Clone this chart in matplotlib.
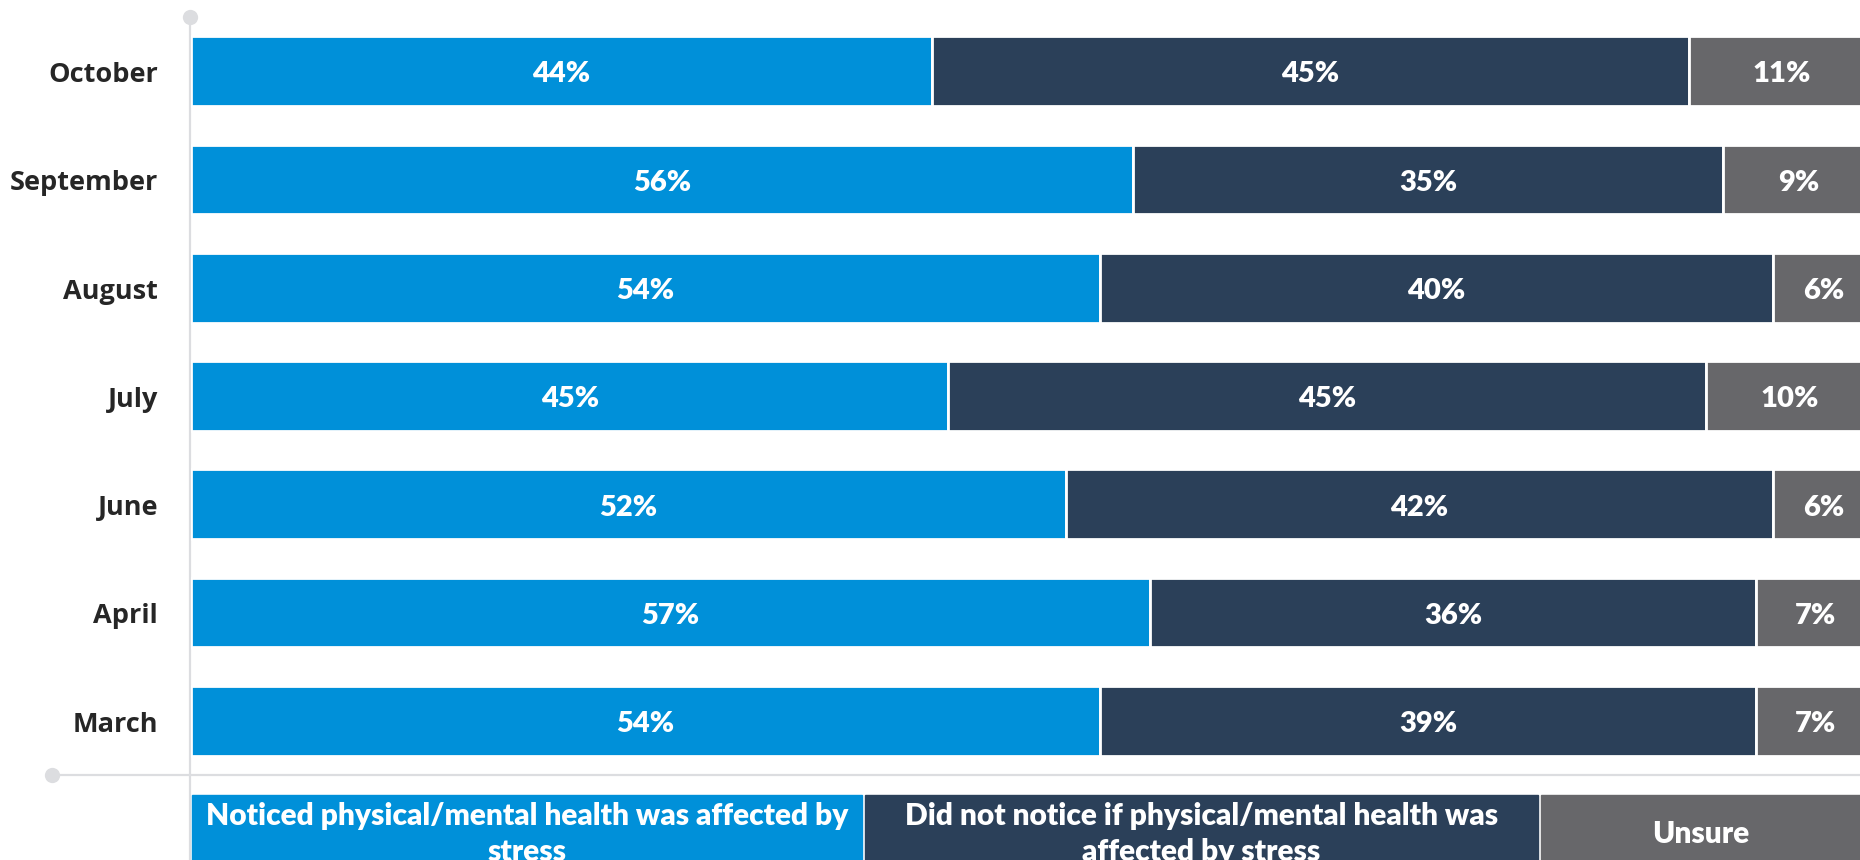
import matplotlib.pyplot as plt
from matplotlib.lines import Line2D
from matplotlib.patches import Rectangle

months = ["October", "September", "August", "July", "June", "April", "March"]
noticed = [44, 56, 54, 45, 52, 57, 54]
not_noticed = [45, 35, 40, 45, 42, 36, 39]
unsure = [11, 9, 6, 10, 6, 7, 7]

series_names = [
    "Noticed physical/mental health was affected by\nstress",
    "Did not notice if physical/mental health was\naffected by stress",
    "Unsure",
]
colors = ["#0090d9", "#2b4059", "#67676a"]

W, H = 1860, 860
AXIS_GREY = "#dcdde0"


def fx(px):
    return px / W


def fy(py):
    # py counted from the top of the figure
    return 1 - py / H


fig = plt.figure(figsize=(W / 100, H / 100), dpi=100)

# plot area: 0..100 % spans 191..1874 px, rows span 17..775 px
ax = fig.add_axes([fx(191), fy(775), fx(1683), 758 / H])
ax.set_xlim(0, 100)
ax.set_ylim(len(months) - 0.5, -0.5)
ax.axis("off")

ypos = list(range(len(months)))
left = [0] * len(months)
for vals, col in zip([noticed, not_noticed, unsure], colors):
    ax.barh(ypos, vals, left=left, height=0.645, color=col,
            edgecolor="white", linewidth=2.0)
    for y, l, v in zip(ypos, left, vals):
        ax.text(l + v / 2, y + 0.03, f"{v}%", ha="center", va="center",
                color="white", fontsize=21, fontweight="heavy",
                family="Lato")
    left = [a + b for a, b in zip(left, vals)]

# month labels
for y, m in zip(ypos, months):
    ax.text(-1.95, y + 0.035, m, ha="right", va="center", fontsize=19.5,
            fontweight="bold", family="Open Sans", color="#262626")

# axis lines with end dots
fig.add_artist(Line2D([fx(190), fx(190)], [fy(17), fy(870)], color=AXIS_GREY,
                      lw=1.6, zorder=0))
fig.add_artist(Line2D([fx(52), fx(1870)], [fy(775), fy(775)], color=AXIS_GREY,
                      lw=1.6, zorder=0))
fig.add_artist(Line2D([fx(190)], [fy(17)], marker="o", markersize=11,
                      color=AXIS_GREY, markeredgewidth=0))
fig.add_artist(Line2D([fx(52)], [fy(775)], marker="o", markersize=11,
                      color=AXIS_GREY, markeredgewidth=0))

# legend boxes under the plot
box_edges = [(192, 862), (865, 1538), (1541, 1860)]
for (x0, x1), name, col in zip(box_edges, series_names, colors):
    fig.add_artist(Rectangle((fx(x0), fy(870)), fx(x1 - x0), (870 - 795) / H,
                             color=col, zorder=1))
    fig.text(fx((x0 + x1) / 2), fy(834), name, ha="center", va="center",
             multialignment="center", color="white", fontsize=21.5,
             fontweight="heavy", family="Lato", linespacing=1.35)

fig.savefig("out.png", dpi=100)
